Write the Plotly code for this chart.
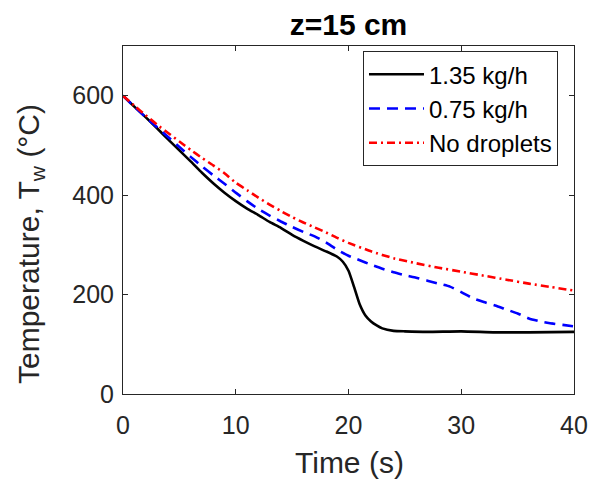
import plotly.graph_objects as go

# Data (time in s, temperature in °C)
t_black = [0, 1, 2, 3, 4, 5, 6, 7, 8, 9, 10, 11, 12, 13, 14, 15, 16, 17, 18, 19, 19.5,
           20, 20.5, 21, 21.5, 22, 22.5, 23, 24, 25, 27, 30, 33, 36, 40]
T_black = [600, 578, 557, 535, 512, 490, 468, 445, 424, 405, 388, 373, 360, 346, 334,
           320, 308, 297, 287, 276, 266, 248, 215, 180, 158, 146, 138, 132, 127, 126,
           125, 126, 124, 124, 125]

t_blue = [0, 1, 2, 3, 4, 5, 6, 7, 8, 9, 10, 11, 12, 13, 14, 15, 16, 17, 18, 19, 20,
          21, 22, 23, 24, 25, 26, 27, 28, 29, 30, 31, 32, 33, 34, 35, 36, 37, 38, 39, 40]
T_blue = [600, 578, 557, 537, 517, 497, 477, 458, 440, 423, 405, 388, 372, 359, 347,
          336, 326, 317, 305, 290, 278, 269, 260, 252, 245, 239, 234, 228, 222, 216,
          205, 193, 185, 178, 170, 162, 152, 146, 142, 139, 136]

t_red = [0, 1, 2, 3, 4, 5, 6, 7, 8, 9, 10, 11, 12, 13, 14, 15, 16, 17, 18, 19, 20,
         22, 24, 26, 28, 30, 32, 34, 36, 38, 40]
T_red = [600, 580, 561, 542, 525, 508, 491, 475, 460, 444, 425, 410, 395, 381, 368,
         356, 345, 335, 325, 314, 304, 287, 273, 263, 254, 246, 238, 230, 222, 215, 208]

names = ["1.35 kg/h", "0.75 kg/h", "No droplets"]
x_ticks = [0, 10, 20, 30, 40]
y_ticks = [0, 200, 400, 600]
title_text = "<b>z=15 cm</b>"
x_title = "Time (s)"
y_title = "Temperature, T<sub>w</sub> (°C)"

FONT = "Liberation Sans, Arial, Helvetica, sans-serif"
AX = "#262626"

# page is offset by the browser's 8px body margin
W, H = 588, 474
L, T, R, B = 115, 38, 22, 88
PW, PH = W - L - R, H - T - B

fig = go.Figure()
fig.add_trace(go.Scatter(x=t_black, y=T_black, mode="lines", name=names[0],
                         line=dict(color="black", width=2.6, shape="spline", smoothing=0.5)))
fig.add_trace(go.Scatter(x=t_blue, y=T_blue, mode="lines", name=names[1],
                         line=dict(color="blue", width=2.6, dash="11px,7px", shape="spline", smoothing=0.5)))
fig.add_trace(go.Scatter(x=t_red, y=T_red, mode="lines", name=names[2],
                         line=dict(color="red", width=2.6, dash="8px,4px,2px,4px", shape="spline", smoothing=0.5)))

axis_common = dict(
    showline=True, linecolor=AX, linewidth=1, mirror="ticks",
    ticks="inside", ticklen=5, tickcolor=AX, tickwidth=1,
    showgrid=False, zeroline=False,
    tickfont=dict(family=FONT, size=25, color=AX),
)

fig.update_layout(
    width=W, height=H,
    margin=dict(l=L, r=R, t=T, b=B, autoexpand=False),
    paper_bgcolor="white", plot_bgcolor="white",
    title=dict(text=title_text, x=(L + PW / 2) / W, xanchor="center",
               y=1 - 16 / H, yanchor="middle",
               font=dict(family=FONT, size=30, color="black")),
    xaxis=dict(range=[0, 40], tickvals=x_ticks, ticklabelstandoff=9, **axis_common),
    yaxis=dict(range=[0, 700], tickvals=y_ticks, ticklabelstandoff=3, **axis_common),
    legend=dict(x=0.9645, y=0.985, xanchor="right", yanchor="top",
                bgcolor="white", bordercolor=AX, borderwidth=1,
                font=dict(family=FONT, size=24, color="black"),
                tracegroupgap=0, itemwidth=55),
    showlegend=True,
    annotations=[
        dict(text=x_title, xref="paper", yref="paper", x=0.503, y=-(454 - (H - B)) / PH,
             xanchor="center", yanchor="middle", showarrow=False,
             font=dict(family=FONT, size=30, color=AX)),
        dict(text=y_title, xref="paper", yref="paper", x=(22 - L) / PW, y=((H - B) - 236) / PH,
             xanchor="center", yanchor="middle", showarrow=False, textangle=-90,
             font=dict(family=FONT, size=30, color=AX)),
    ],
)

fig.write_html("out.html")
